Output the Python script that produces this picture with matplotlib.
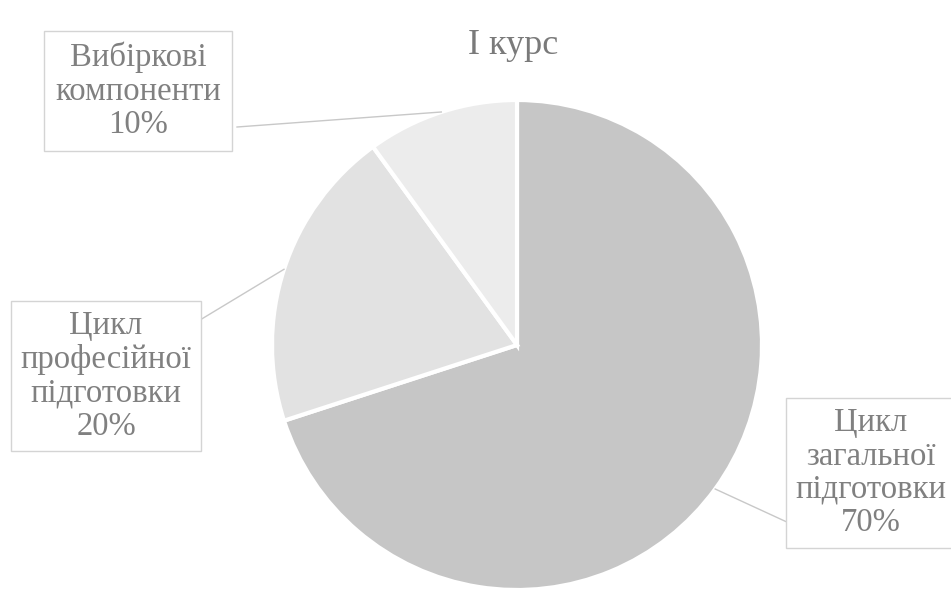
import numpy as np
import matplotlib
matplotlib.use("Agg")
import matplotlib.pyplot as plt

# --- data ---
labels = ["Цикл\nзагальної\nпідготовки", "Цикл\nпрофесійної\nпідготовки", "Вибіркові\nкомпоненти"]
values = [70, 20, 10]
colors = ["#c6c6c6", "#e2e2e2", "#ececec"]
title = "І курс"

plt.rcParams['font.family'] = ['Liberation Serif', 'DejaVu Serif']

fig = plt.figure(figsize=(9.51, 6.10), dpi=100)
ax = fig.add_axes([0, 0, 1, 1])

# pixel-like coordinates, y up
cx, cy, R = 517, 265, 245
wedges, _ = ax.pie(values, colors=colors, startangle=90, counterclock=False,
                   center=(cx, cy), radius=R, frame=True,
                   wedgeprops=dict(edgecolor="white", linewidth=3))
ax.set_xlim(0, 951)
ax.set_ylim(0, 610)
ax.set_aspect('auto')
ax.axis('off')

ax.text(513, 565, title, ha='center', va='center', fontsize=26, color='#7a7a7a')

# label box centers and where the leader line meets the box
box_pos = [(871, 137), (106, 234), (138, 519)]
line_end = [(789, 87), (200, 290), (237, 483)]
box_pad = [0.3, 0.3, 0.35]

for w, lab, v, bp, le, pd in zip(wedges, labels, values, box_pos, line_end, box_pad):
    ang = np.deg2rad((w.theta1 + w.theta2) / 2)
    ax_pt = (cx + R * np.cos(ang), cy + R * np.sin(ang))
    ax.plot([ax_pt[0], le[0]], [ax_pt[1], le[1]], color='#c8c8c8', lw=1, zorder=1)
    ax.text(bp[0], bp[1], f"{lab}\n{v}%", ha='center', va='center', fontsize=23.5,
            color='#808080', linespacing=1.12, zorder=3,
            bbox=dict(boxstyle=f'square,pad={pd}', facecolor='white', edgecolor='#d4d4d4', lw=1))

fig.savefig("out.png", dpi=100, facecolor='white')
